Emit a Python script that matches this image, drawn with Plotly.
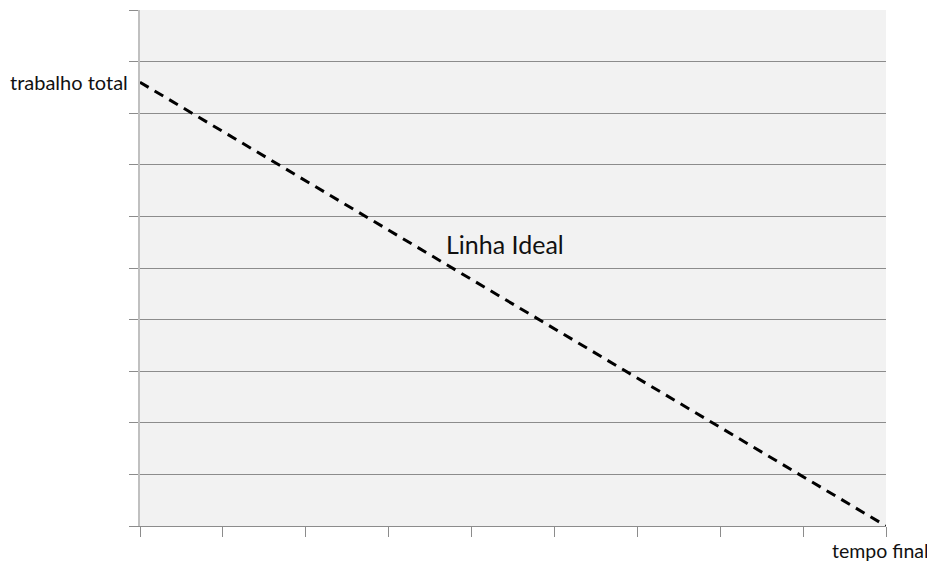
import plotly.graph_objects as go

# linha ideal (burndown): do trabalho total ao tempo final
tempo = [0, 9]
trabalho = [8.6, 0]

rotulo_y = "trabalho total"
rotulo_x = "tempo final"
rotulo_linha = "Linha Ideal"

fonte = "Lato, Open Sans, sans-serif"

fig = go.Figure()
fig.add_trace(go.Scatter(
    x=tempo,
    y=trabalho,
    mode="lines",
    line=dict(color="black", width=3, dash="10px,7px"),
    showlegend=False,
    hoverinfo="skip",
))

fig.add_annotation(x=0, y=trabalho[0], xref="paper", yref="y", text=rotulo_y,
                   showarrow=False, xanchor="right", yanchor="middle", xshift=-10,
                   font=dict(size=20, color="#111", family=fonte))
fig.add_annotation(x=tempo[-1], y=0, xref="x", yref="paper", text=rotulo_x,
                   showarrow=False, xanchor="right", yanchor="top", xshift=45, yshift=-11,
                   font=dict(size=19.5, color="#111", family=fonte))
fig.add_annotation(x=4.4, y=5.47, text=rotulo_linha, showarrow=False,
                   xanchor="center", yanchor="middle",
                   font=dict(size=25, color="#111", family=fonte))

fig.update_xaxes(range=[0, 9], dtick=1, showgrid=False, zeroline=False,
                 showticklabels=False, ticks="outside", ticklen=10, tickcolor="#8c8c8c",
                 showline=True, linecolor="#8c8c8c", linewidth=1)
fig.update_yaxes(range=[0, 10], dtick=1, showgrid=True, gridcolor="#8c8c8c", gridwidth=1,
                 zeroline=False, showticklabels=False, ticks="outside", ticklen=9,
                 tickcolor="#8c8c8c", showline=True, linecolor="#c0c0c0", linewidth=2)

# a pagina tem 8px de margem no body, compensado aqui
fig.update_layout(
    width=935, height=561,
    margin=dict(l=132, r=57, t=2, b=43),
    plot_bgcolor="#f2f2f2",
    paper_bgcolor="white",
    font=dict(family=fonte),
)

fig.write_html("out.html")
